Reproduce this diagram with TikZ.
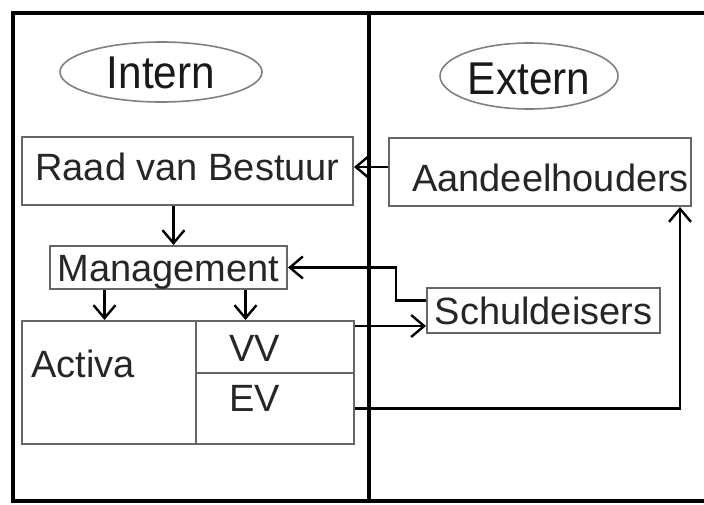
\documentclass[tikz,border=0pt]{standalone}
\usepackage{fontspec}
\setmainfont{Liberation Sans}
\usetikzlibrary{arrows.meta,positioning,shapes.geometric,calc}

\begin{document}
\begin{tikzpicture}[
  x=1pt, y=-1pt,
  box/.style={rectangle, draw=black!60, line width=2pt, inner sep=0pt, text height=27pt, text depth=0pt, font=\fontsize{38}{40}\selectfont, text=black!85},
  cell/.style={rectangle, draw=black!60, line width=2pt, inner sep=0pt},
  oval/.style={ellipse, draw=black!50, line width=1.6pt, inner sep=0pt, text height=33pt, text depth=0pt, font=\fontsize{46}{48}\selectfont, text=black!90},
  lbl/.style={inner sep=0pt, font=\fontsize{38}{40}\selectfont, text=black!85},
  border/.style={line width=4pt},
  arr/.style={-{Straight Barb[length=13pt,width=22pt]}, line width=2.4pt},
]
\useasboundingbox (0,0) rectangle (704,504);

% Frame: intern | extern
\draw[border] (704,13) -- (13,13) -- (13,501) -- (704,501);
\draw[border] (369,13) -- (369,501);

% Headers
\node[oval, minimum width=202, minimum height=60] (intern) at (161,72) {\scalebox{0.92}[1]{Intern}};
\node[oval, minimum width=178, minimum height=66, text height=37pt] (extern) at (529,76) {\scalebox{0.92}[1]{Extern}};

% Intern side
\node[box, minimum width=331, minimum height=68, text depth=9pt] (raad) at (187.5,171) {Raad van Bestuur};
\node[box, minimum width=237, minimum height=43] (mgmt) at (168.5,267.5) {Management};

% Balance sheet
\node[cell, minimum width=174, minimum height=123] (activa) at (109,382.5) {};
\node[cell, minimum width=158, minimum height=52] (vv) at (275,347) {};
\node[cell, minimum width=158, minimum height=71] (ev) at (275,408.5) {};
\node[lbl, anchor=base west] (activatxt) at ($(activa.north west)+(10,57)$) {Activa};
\node[lbl, anchor=base west] (vvtxt) at ($(vv.north west)+(34,41)$) {VV};
\node[lbl, anchor=base west] (evtxt) at ($(ev.north west)+(34,39)$) {EV};

% Extern side
\node[box, minimum width=302, minimum height=68, text height=38pt, inner xsep=2pt, text width=298, align=right] (aandeel) at (540,172) {Aandeelhouders};
\node[box, minimum width=233, minimum height=45] (schuld) at (543.5,310.5) {Schuldeisers};

% Connectors
\draw[arr] ([yshift=5]aandeel.west) -- ([yshift=5]aandeel.west -| raad.east);
\draw[arr] ([xshift=5]mgmt.north |- raad.south) -- ([xshift=5]mgmt.north);
\draw[arr] ([xshift=-64]mgmt.south) -- ([xshift=-64]mgmt.south |- activa.north);
\draw[arr] ([xshift=77]mgmt.south) -- ([xshift=77]mgmt.south |- vv.north);
\draw[arr] ([yshift=10]schuld.west) -- ++(-30,0) |- (mgmt.east);
\draw[arr] ([yshift=21]vv.east) -- ([yshift=21]vv.east -| schuld.west);
\draw[arr] (ev.east) -| ([xshift=140]aandeel.south);

\end{tikzpicture}
\end{document}
